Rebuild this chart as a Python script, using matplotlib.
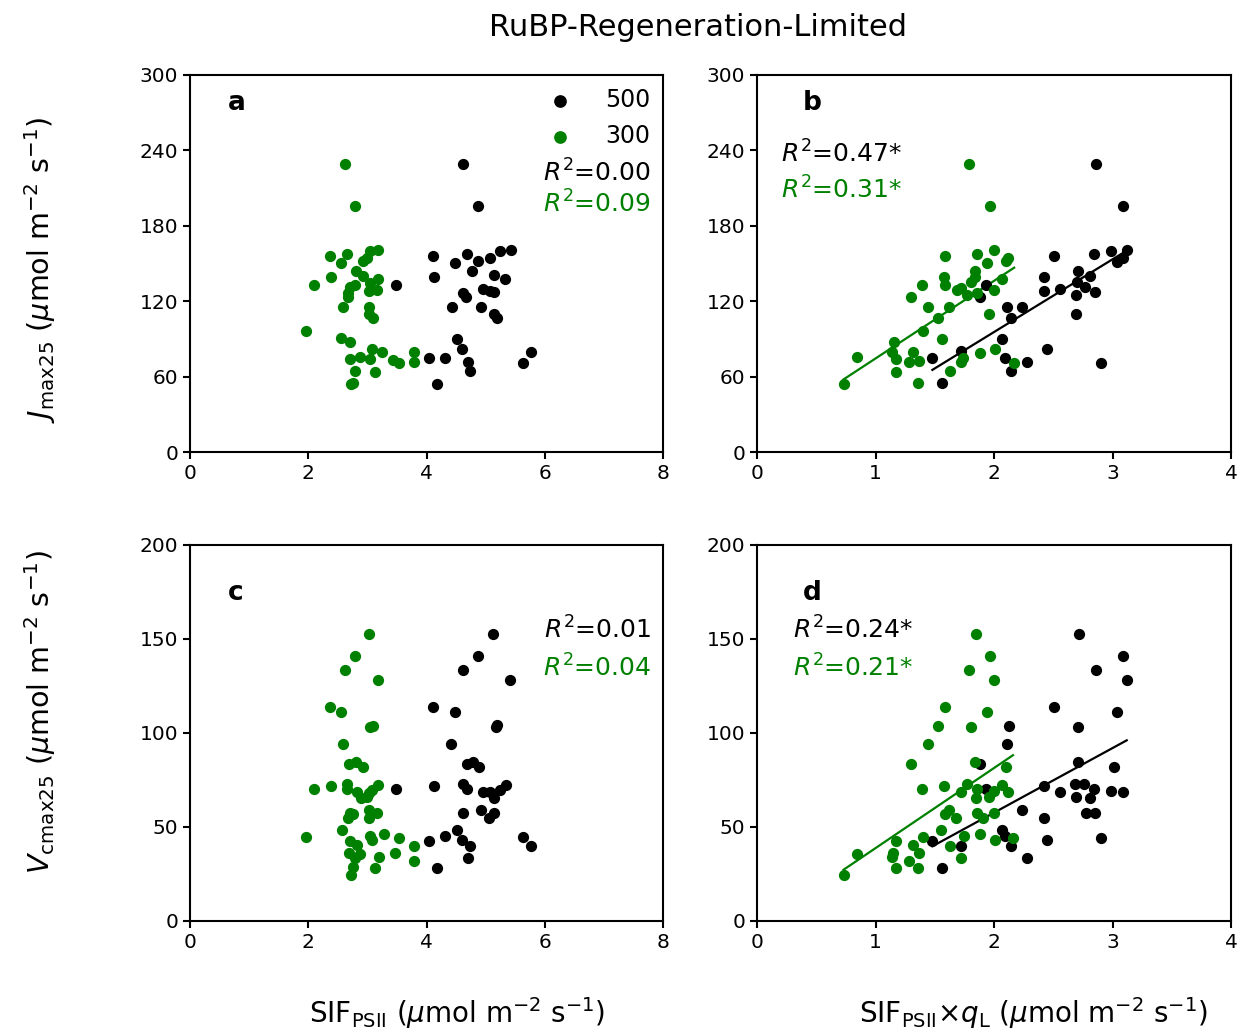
import numpy as np
import matplotlib
matplotlib.use('Agg')
import matplotlib.pyplot as plt

# panel a : Jmax25 vs SIF_PSII
a_x500 = [4.62, 4.87, 4.11, 4.68, 4.49, 4.87, 5.07, 5.24, 5.43, 4.77, 5.15, 4.13, 5.33, 3.48, 4.96, 5.07,
          5.15, 4.61, 4.67, 4.43, 4.93, 5.15, 5.19, 4.51, 4.60, 4.04, 4.32, 4.70, 4.74, 5.77, 5.64, 4.17]
a_y500 = [228.9, 195.5, 156.2, 157.3, 150.7, 152.3, 154.6, 160.2, 161.0, 144.3, 140.8, 139.0, 137.7, 132.6, 129.4, 128.1,
          127.6, 126.8, 123.0, 115.1, 115.6, 109.5, 106.4, 89.9, 82.0, 74.5, 74.5, 71.4, 64.5, 79.8, 71.1, 54.4]
a_x300 = [2.63, 2.79, 2.37, 2.65, 2.55, 3.04, 3.18, 2.93, 2.99, 2.80, 2.93, 2.38, 2.09, 3.18, 3.04, 2.71,
          2.79, 2.68, 2.68, 3.02, 3.16, 2.58, 3.03, 3.02, 3.10, 1.97, 2.56, 2.71, 3.07, 3.24, 2.87, 2.71,
          3.04, 3.44, 3.54, 3.79, 3.79, 2.79, 3.13, 2.73, 2.76]
a_y300 = [228.9, 195.5, 156.2, 157.3, 150.7, 160.2, 161.0, 152.0, 154.6, 144.3, 140.0, 139.0, 132.6, 137.7, 134.2, 131.6,
          132.9, 126.3, 123.6, 128.1, 128.9, 115.1, 115.6, 109.5, 106.9, 96.6, 90.5, 87.3, 82.0, 79.8, 75.9, 74.0,
          74.0, 73.2, 70.6, 79.8, 71.9, 64.5, 63.4, 53.8, 54.6]

# panel b : Jmax25 vs SIF_PSII x qL
b_x500 = [2.86, 3.09, 2.51, 2.84, 2.99, 3.12, 3.04, 3.09, 2.71, 2.81, 2.42, 2.70, 2.77, 2.56, 2.42, 2.85,
          2.69, 1.93, 1.88, 2.11, 2.24, 2.14, 2.69, 2.07, 1.72, 2.45, 1.48, 2.09, 2.28, 2.14, 2.90, 1.56]
b_y500 = [228.9, 195.5, 156.2, 157.3, 160.2, 161.0, 151.5, 154.6, 144.3, 140.0, 139.0, 135.5, 131.6, 129.4, 128.1, 127.0,
          125.0, 132.9, 123.0, 115.1, 115.6, 106.9, 109.5, 89.9, 80.4, 82.0, 74.5, 74.5, 71.4, 64.5, 71.1, 54.6]
b_x300 = [1.79, 1.97, 1.59, 1.86, 2.00, 1.94, 2.12, 2.10, 1.84, 1.58, 1.59, 1.84, 1.81, 2.07, 1.39, 1.69,
          1.72, 1.77, 1.86, 2.00, 1.30, 1.44, 1.62, 1.53, 1.96, 1.40, 1.56, 1.16, 1.14, 1.32, 0.84, 1.17,
          1.28, 1.37, 1.88, 2.01, 1.74, 1.72, 2.17, 1.17, 1.63, 1.36, 0.73]
b_y300 = [228.9, 195.5, 156.2, 157.3, 161.0, 150.7, 154.6, 152.0, 144.3, 139.5, 132.9, 139.5, 135.5, 137.7, 132.6, 128.9,
          130.2, 125.0, 126.3, 128.9, 123.0, 115.1, 115.6, 106.9, 109.5, 96.6, 90.0, 87.3, 79.8, 79.8, 75.9, 74.0,
          71.9, 72.7, 78.5, 82.0, 74.5, 71.4, 70.6, 63.4, 64.5, 54.6, 53.8]

# panel c : Vcmax25 vs SIF_PSII
c_x500 = [5.12, 4.87, 4.62, 5.42, 4.11, 4.49, 5.17, 5.19, 4.42, 4.68, 4.79, 4.88, 3.48, 4.13, 4.62, 4.68,
          4.96, 5.07, 5.15, 5.24, 5.34, 4.62, 4.93, 5.14, 5.06, 4.51, 4.32, 4.04, 4.60, 4.74, 4.70, 5.64,
          5.77, 4.17]
c_y500 = [152.8, 141.1, 133.7, 128.2, 114.0, 111.2, 103.4, 104.3, 94.3, 83.5, 84.4, 82.1, 70.0, 71.8, 72.9, 70.0,
          68.8, 68.4, 65.6, 69.7, 72.3, 57.3, 59.0, 57.3, 55.0, 48.4, 45.4, 42.6, 43.1, 40.0, 33.7, 44.5,
          40.0, 28.4]
c_x300 = [3.02, 2.79, 2.63, 3.18, 2.37, 2.55, 3.04, 3.10, 2.58, 2.69, 2.81, 2.93, 2.09, 2.38, 2.66, 2.65,
          2.82, 2.90, 3.02, 3.07, 3.18, 2.99, 2.71, 2.76, 2.68, 3.02, 3.16, 3.02, 1.97, 2.57, 2.71, 2.82,
          3.04, 3.07, 3.28, 3.54, 3.79, 2.69, 2.87, 3.20, 3.46, 3.79, 2.76, 3.13, 2.72, 2.79]
c_y300 = [152.8, 141.1, 133.7, 128.2, 114.0, 111.2, 103.4, 103.9, 94.3, 83.5, 84.8, 82.1, 70.0, 71.8, 72.7, 70.0,
          68.4, 65.2, 67.9, 69.7, 72.3, 66.1, 57.3, 56.7, 55.0, 59.0, 57.3, 55.0, 44.5, 48.4, 42.6, 40.4,
          45.4, 43.1, 46.3, 44.3, 40.0, 36.0, 35.6, 33.9, 36.0, 32.1, 28.5, 28.4, 24.5, 33.3]

# panel d : Vcmax25 vs SIF_PSII x qL
d_x500 = [2.72, 3.09, 2.86, 3.12, 2.51, 3.04, 2.71, 2.13, 2.11, 2.71, 3.01, 1.88, 1.93, 2.42, 2.56, 2.68,
          2.76, 2.84, 2.69, 2.81, 2.99, 3.09, 2.24, 2.42, 2.78, 2.85, 2.07, 2.09, 1.48, 2.45, 2.14, 1.72,
          2.90, 2.28, 1.56]
d_y500 = [152.8, 141.1, 133.7, 128.2, 114.0, 111.2, 103.4, 103.9, 94.3, 84.4, 82.1, 83.5, 70.0, 71.8, 68.8, 72.9,
          72.7, 70.0, 66.1, 65.6, 69.3, 68.4, 59.0, 55.0, 57.3, 57.3, 48.4, 45.4, 42.6, 43.1, 40.0, 40.0,
          44.3, 33.7, 28.4]
d_x300 = [1.85, 1.97, 1.79, 2.00, 1.59, 1.94, 1.53, 1.81, 1.44, 1.30, 1.84, 2.10, 1.39, 1.58, 1.77, 1.72,
          1.86, 1.85, 1.96, 2.00, 2.07, 2.12, 1.62, 1.59, 1.68, 1.86, 2.00, 1.91, 1.55, 1.40, 1.17, 1.32,
          1.75, 1.88, 2.01, 2.16, 1.63, 0.84, 1.15, 1.37, 1.14, 1.72, 1.28, 1.17, 1.36, 0.73]
d_y300 = [152.8, 141.1, 133.7, 128.2, 114.0, 111.2, 103.9, 103.4, 94.3, 83.5, 84.4, 82.1, 70.0, 71.8, 72.9, 68.8,
          70.0, 65.6, 66.1, 69.3, 72.3, 68.4, 59.0, 56.7, 55.0, 57.3, 57.3, 54.6, 48.4, 44.5, 42.6, 40.4,
          45.4, 46.3, 43.1, 44.3, 40.0, 35.6, 36.0, 36.0, 33.9, 33.7, 32.1, 28.4, 28.4, 24.5]

r2_text = {'a': ('$R^2$=0.00', '$R^2$=0.09'), 'b': ('$R^2$=0.47*', '$R^2$=0.31*'),
           'c': ('$R^2$=0.01', '$R^2$=0.04'), 'd': ('$R^2$=0.24*', '$R^2$=0.21*')}

GREEN = 'green'
fig = plt.figure(figsize=(12.38, 10.3), dpi=100)

W, H = 1238., 1030.
def add_ax(x0, x1, y0, y1):
    return fig.add_axes([x0 / W, 1 - y1 / H, (x1 - x0) / W, (y1 - y0) / H])

ax_a = add_ax(190, 663, 75, 452)
ax_b = add_ax(757, 1231, 75, 452)
ax_c = add_ax(190, 663, 545, 921)
ax_d = add_ax(757, 1231, 545, 921)

panels = [(ax_a, 'a', a_x500, a_y500, a_x300, a_y300, False),
          (ax_b, 'b', b_x500, b_y500, b_x300, b_y300, True),
          (ax_c, 'c', c_x500, c_y500, c_x300, c_y300, False),
          (ax_d, 'd', d_x500, d_y500, d_x300, d_y300, True)]

FS = 18
for ax, lab, x5, y5, x3, y3, fit in panels:
    ax.scatter(x5, y5, s=50, color='black', label='500', zorder=3)
    ax.scatter(x3, y3, s=50, color=GREEN, label='300', zorder=3)
    if fit:
        for xx, yy, c in [(x5, y5, 'black'), (x3, y3, GREEN)]:
            xx = np.array(xx); yy = np.array(yy)
            p = np.polyfit(xx, yy, 1)
            xs = np.array([xx.min(), xx.max()])
            ax.plot(xs, np.polyval(p, xs), color=c, lw=1.6, zorder=2)
    top = lab in 'ab'
    right = lab in 'bd'
    ax.set_xlim(0, 4 if right else 8)
    ax.set_xticks([0, 1, 2, 3, 4] if right else [0, 2, 4, 6, 8])
    if top:
        ax.set_ylim(0, 300)
        ax.set_yticks([0, 60, 120, 180, 240, 300])
    else:
        ax.set_ylim(0, 200)
        ax.set_yticks([0, 50, 100, 150, 200])
    ax.tick_params(labelsize=14.5, width=1.5, length=5)
    for s in ax.spines.values():
        s.set_linewidth(1.5)
    ly = 0.926 if top else 0.872
    lx = 0.08 if not right else 0.097
    ax.text(lx, ly, lab, transform=ax.transAxes, fontsize=19, fontweight='bold',
            ha='left', va='center')
    t1, t2 = r2_text[lab]
    if lab == 'a':
        ax.text(0.975, 0.741, t1, transform=ax.transAxes, fontsize=FS, ha='right', va='center')
        ax.text(0.975, 0.658, t2, transform=ax.transAxes, fontsize=FS, ha='right', va='center', color=GREEN)
        ax.legend(loc='upper right', frameon=False, fontsize=17, handletextpad=1.4,
                  borderaxespad=0.15, labelspacing=0.5, handlelength=1.0, scatterpoints=1,
                  markerscale=1.15)
    elif lab == 'b':
        ax.text(0.05, 0.79, t1, transform=ax.transAxes, fontsize=FS, ha='left', va='center')
        ax.text(0.05, 0.695, t2, transform=ax.transAxes, fontsize=FS, ha='left', va='center', color=GREEN)
    elif lab == 'c':
        ax.text(0.975, 0.775, t1, transform=ax.transAxes, fontsize=FS, ha='right', va='center')
        ax.text(0.975, 0.674, t2, transform=ax.transAxes, fontsize=FS, ha='right', va='center', color=GREEN)
    else:
        ax.text(0.075, 0.775, t1, transform=ax.transAxes, fontsize=FS, ha='left', va='center')
        ax.text(0.075, 0.674, t2, transform=ax.transAxes, fontsize=FS, ha='left', va='center', color=GREEN)

fig.text(698 / W, 1 - 27 / H, 'RuBP-Regeneration-Limited', fontsize=22, ha='center', va='center')
fig.text(40 / W, 1 - 270 / H, r'$J_{\rm max25}$ ($\mu$mol m$^{-2}$ s$^{-1}$)', fontsize=20.5,
         rotation=90, ha='center', va='center')
fig.text(40 / W, 1 - 712 / H, r'$V_{\rm cmax25}$ ($\mu$mol m$^{-2}$ s$^{-1}$)', fontsize=20.5,
         rotation=90, ha='center', va='center')
fig.text(457 / W, 1 - 1013 / H, r'SIF$_{\rm PSII}$ ($\mu$mol m$^{-2}$ s$^{-1}$)', fontsize=20,
         ha='center', va='center')
fig.text(1033 / W, 1 - 1013 / H, r'SIF$_{\rm PSII}$$\times$$q_{\rm L}$ ($\mu$mol m$^{-2}$ s$^{-1}$)',
         fontsize=20, ha='center', va='center')

fig.savefig('out.png', dpi=100)
